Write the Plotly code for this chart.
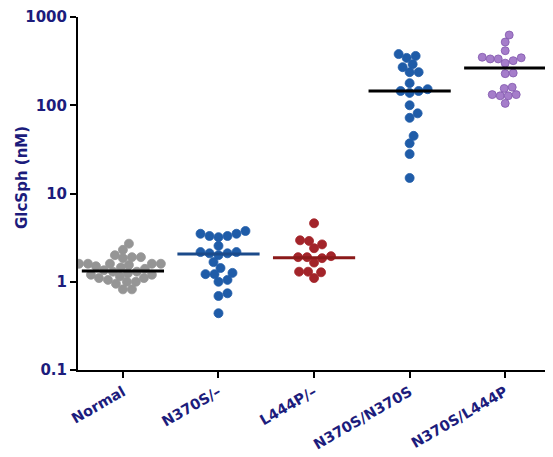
import numpy as np
import plotly.graph_objects as go

categories = ["Normal", "N370S/\u2013", "L444P/\u2013", "N370S/N370S", "N370S/L444P"]

normal = [2.7, 2.3, 2.0, 1.9, 1.9, 1.85, 1.6, 1.6, 1.6, 1.6, 1.6, 1.55, 1.5, 1.45,
          1.4, 1.35, 1.3, 1.3, 1.25, 1.2, 1.2, 1.15, 1.1, 1.1, 1.05, 1.0, 1.0, 0.95,
          0.82, 0.82]
n370s_het = [3.76, 3.5, 3.3, 3.2, 3.3, 3.5, 2.55, 2.17, 2.17, 2.0, 2.1, 2.1, 1.67,
             1.43, 1.26, 1.22, 1.0, 1.05, 1.22, 0.74, 0.69, 0.44]
l444p_het = [4.6, 2.95, 2.9, 2.65, 2.4, 1.95, 1.9, 1.9, 1.85, 1.65, 1.3, 1.28, 1.3, 1.1]
n370s_hom = [380, 362, 344, 292, 270, 237, 237, 178, 152, 145, 145, 138, 100, 81, 72,
             45, 37, 28, 15]
n370s_l444p = [625, 520, 415, 345, 335, 320, 335, 350, 300, 228, 232, 160, 155, 132,
               128, 128, 132, 105]
center_lines = [1.32, 2.06, 1.87, 145, 265]

groups = [normal, n370s_het, l444p_het, n370s_hom, n370s_l444p]
dot_colors = ["#959595", "#1f5ca8", "#a3242a", "#1f5ca8", "#a57dca"]
dot_lines = ["#959595", "#1f5ca8", "#a3242a", "#1f5ca8", "#8258ad"]
dot_sizes = [9, 9, 9, 9, 8]
swarm_gap = [8.3, 8.5, 8.5, 8.5, 8.0]
line_colors = ["#000000", "#1b4a8a", "#8b1a1a", "#000000", "#000000"]
text_color = "#1c1c7c"

PX_PER_DECADE = 88.25
PX_PER_CAT = 95.7


def swarm(vals, gap):
    ys = np.log10(np.asarray(vals, dtype=float)) * PX_PER_DECADE
    order = np.argsort(ys)
    placed = []
    offs = np.zeros(len(ys))
    cands = [0.0]
    for k in range(1, 80):
        cands += [k * 1.0, -k * 1.0]
    for i in order:
        y = ys[i]
        for c in cands:
            if all((c - px) ** 2 + (y - py) ** 2 >= gap ** 2 for px, py in placed):
                offs[i] = c
                placed.append((c, y))
                break
    return offs / PX_PER_CAT


fig = go.Figure()
for i, vals in enumerate(groups):
    offs = swarm(vals, swarm_gap[i])
    fig.add_trace(go.Scatter(
        x=i + offs, y=vals, mode="markers",
        marker=dict(size=dot_sizes[i], color=dot_colors[i],
                    line=dict(color=dot_lines[i], width=0.8)),
        showlegend=False, hoverinfo="y"))
for i, m in enumerate(center_lines):
    fig.add_trace(go.Scatter(
        x=[i - 0.43, i + 0.43], y=[m, m], mode="lines",
        line=dict(color=line_colors[i], width=3), showlegend=False))

font_family = "DejaVu Sans, Liberation Sans, Arial"
# the page body adds an 8px offset, so the figure is sized to fit the window
fig.update_layout(
    width=545, height=449,
    margin=dict(l=70, r=0, t=9, b=87, autoexpand=False),
    paper_bgcolor="white", plot_bgcolor="white",
    font=dict(family=font_family, color=text_color),
)
fig.update_xaxes(
    range=[-0.47, 4.5], tickmode="array", tickvals=list(range(len(categories))),
    ticktext=categories, tickangle=-30, automargin=False,
    tickfont=dict(size=14.5, color=text_color, weight="bold", family=font_family),
    showline=True, linecolor="black", linewidth=2, ticks="outside", ticklen=6,
    tickwidth=1.5, tickcolor="black", showgrid=False, zeroline=False,
)
fig.update_yaxes(
    type="log", range=[-1, 3], tickmode="array", automargin=False,
    tickvals=[0.1, 1, 10, 100, 1000], ticktext=["0.1", "1", "10", "100", "1000"],
    tickfont=dict(size=15, color=text_color, weight="bold", family=font_family),
    showline=True, linecolor="black", linewidth=2, ticks="outside", ticklen=6,
    tickwidth=1.5, tickcolor="black", showgrid=False, zeroline=False,
)
fig.add_annotation(
    text="GlcSph (nM)", textangle=-90, xref="paper", yref="paper",
    x=(22 - 78) / 475, y=(370 - 178) / 353, xanchor="center", yanchor="middle",
    showarrow=False, font=dict(size=15, color=text_color, weight="bold", family=font_family),
)
fig.write_html("out.html")
